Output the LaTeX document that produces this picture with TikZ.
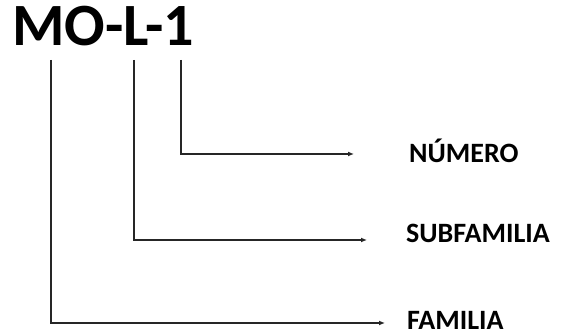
\documentclass[tikz,border=0pt]{standalone}
\usepackage{fontspec}
\setmainfont{Carlito}
\usetikzlibrary{arrows.meta}
\begin{document}
\begin{tikzpicture}[x=1pt,y=-1pt,
  conn/.style={draw=black!85, line width=1.3pt, -{Latex[length=6pt,width=5pt]}},
  lbl/.style={font=\fontsize{28}{28}\selectfont\bfseries, anchor=base west, inner sep=0pt},
  ttl/.style={font=\fontsize{60}{60}\selectfont\bfseries, anchor=base west, inner sep=0pt}]
\useasboundingbox (0,0) rectangle (562,336);
\node[ttl] (title) at (12,46) {MO-L-1};
\coordinate (t1) at (51,60);
\coordinate (t2) at (134,60);
\coordinate (t3) at (181,60);
\node[lbl] (num) at (409,163) {NÚMERO};
\node[lbl] (sub) at (406,243) {SUBFAMILIA};
\node[lbl] (fam) at (407,330) {FAMILIA};
\coordinate (e3) at (354,154);
\coordinate (e2) at (367,240);
\coordinate (e1) at (385,323);
\draw[conn] (t3) |- (e3);
\draw[conn] (t2) |- (e2);
\draw[conn] (t1) |- (e1);
\end{tikzpicture}
\end{document}
